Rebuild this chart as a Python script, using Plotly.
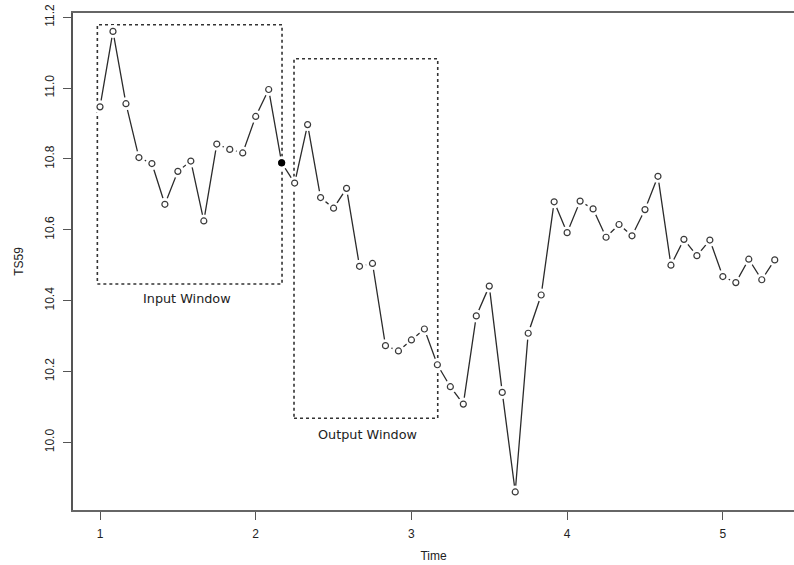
import plotly.graph_objects as go

# Monthly series TS59 (frequency 12), starting at Time = 1
ts59 = [10.947, 11.160, 10.956, 10.804, 10.787, 10.672, 10.765, 10.794, 10.625, 10.842,
        10.827, 10.817, 10.920, 10.996, 10.789, 10.732, 10.897, 10.691, 10.661, 10.717,
        10.497, 10.505, 10.273, 10.258, 10.289, 10.320, 10.219, 10.157, 10.108, 10.357,
        10.441, 10.141, 9.860, 10.308, 10.416, 10.679, 10.592, 10.681, 10.659, 10.579,
        10.615, 10.583, 10.657, 10.751, 10.500, 10.573, 10.527, 10.571, 10.468, 10.451,
        10.517, 10.459, 10.515]
start_time = 1
frequency = 12
time = [start_time + i / frequency for i in range(len(ts59))]

highlight_index = [14]          # filled (black) point at the window boundary

# window rectangles: [x0, x1, y0, y1]
input_window = [0.983, 2.169, 10.447, 11.179]
output_window = [2.246, 3.169, 10.068, 11.083]
input_label = ["Input Window", 1.56, 10.405]
output_label = ["Output Window", 2.715, 10.023]

x_ticks = [1, 2, 3, 4, 5]
y_ticks = [10.0, 10.2, 10.4, 10.6, 10.8, 11.0, 11.2]
x_range = [0.8266, 5.457]
y_range = [9.809, 11.212]

fig = go.Figure()
# connecting line
fig.add_trace(go.Scatter(x=time, y=ts59, mode="lines",
                         line=dict(color="#2b2b2b", width=1.3),
                         hoverinfo="skip", showlegend=False))
# white discs to create the R "type='b'" gaps
fig.add_trace(go.Scatter(x=time, y=ts59, mode="markers",
                         marker=dict(size=13, color="white", line=dict(width=0)),
                         hoverinfo="skip", showlegend=False))
# open circles
fig.add_trace(go.Scatter(x=time, y=ts59, mode="markers",
                         marker=dict(size=6, color="white", symbol="circle",
                                     line=dict(color="#3a3a3a", width=1.2)),
                         showlegend=False))
# filled point
fig.add_trace(go.Scatter(x=[time[i] for i in highlight_index],
                         y=[ts59[i] for i in highlight_index], mode="markers",
                         marker=dict(size=7, color="black"),
                         showlegend=False))

for rect in (input_window, output_window):
    fig.add_shape(type="rect", xref="x", yref="y",
                  x0=rect[0], x1=rect[1], y0=rect[2], y1=rect[3],
                  line=dict(color="#333333", width=1.6, dash="dot"),
                  layer="below")

for lab in (input_label, output_label):
    fig.add_annotation(text=lab[0], x=lab[1], y=lab[2], xref="x", yref="y",
                       showarrow=False,
                       font=dict(family="DejaVu Sans", size=12.8, color="#222222"))

axis_font = dict(family="Liberation Sans, Arial", size=12, color="#222222")
fig.update_xaxes(range=x_range, tickvals=x_ticks, ticktext=[str(v) for v in x_ticks],
                 showgrid=False, zeroline=False, automargin=False,
                 showline=True, linecolor="#666666", linewidth=1.6, mirror=True,
                 ticks="outside", ticklen=8, tickcolor="#555555", tickwidth=1.2,
                 tickfont=axis_font, ticklabelstandoff=4,
                 title=dict(text="Time", font=axis_font, standoff=11))
fig.update_yaxes(range=y_range, tickvals=y_ticks, ticktext=[f"{v:.1f}" for v in y_ticks],
                 showgrid=False, zeroline=False, automargin=False,
                 showline=True, linecolor="#555555", linewidth=1.5,
                 ticks="outside", ticklen=8, tickcolor="#555555", tickwidth=1.2,
                 tickfont=axis_font, tickangle=-90, ticklabelstandoff=4,
                 title=dict(text="TS59", font=axis_font, standoff=17))

fig.update_layout(width=794, height=565,
                  margin=dict(l=73, r=0, t=13, b=55),
                  plot_bgcolor="white", paper_bgcolor="white",
                  showlegend=False)

fig.write_html("out.html", config={"displayModeBar": False},
               post_script="document.body.style.margin='0';document.body.style.overflow='hidden';")
